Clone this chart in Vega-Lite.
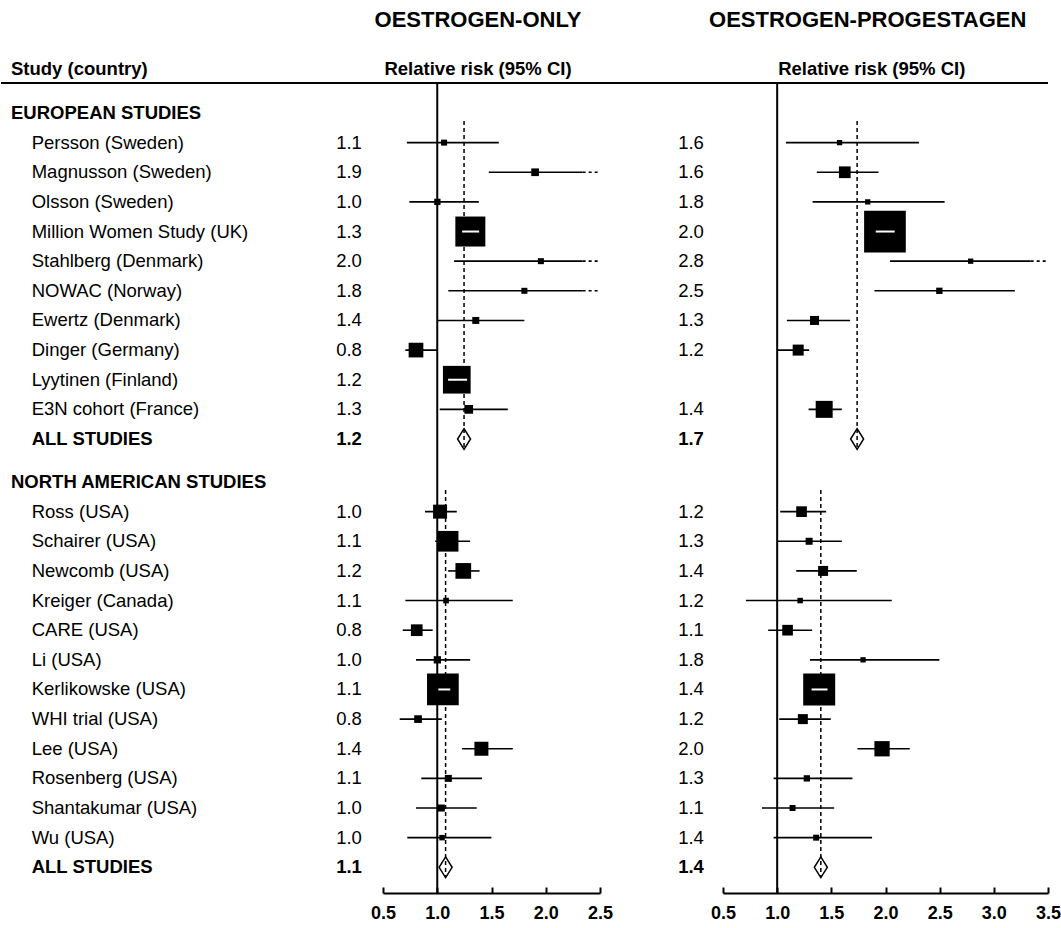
{
  "$schema": "https://vega.github.io/schema/vega-lite/v6.json",
  "width": 1047,
  "height": 893,
  "padding": 0,
  "background": "white",
  "config": {
    "view": {"stroke": null},
    "font": "Liberation Sans",
    "text": {"font": "Liberation Sans", "color": "black"}
  },
  "datasets": {
    "rows": [
      {"row": 0, "label": "EUROPEAN STUDIES", "kind": "heading", "level": 0},
      {"row": 1, "label": "Persson (Sweden)", "kind": "study", "level": 1},
      {"row": 2, "label": "Magnusson (Sweden)", "kind": "study", "level": 1},
      {"row": 3, "label": "Olsson (Sweden)", "kind": "study", "level": 1},
      {"row": 4, "label": "Million Women Study (UK)", "kind": "study", "level": 1},
      {"row": 5, "label": "Stahlberg (Denmark)", "kind": "study", "level": 1},
      {"row": 6, "label": "NOWAC (Norway)", "kind": "study", "level": 1},
      {"row": 7, "label": "Ewertz (Denmark)", "kind": "study", "level": 1},
      {"row": 8, "label": "Dinger (Germany)", "kind": "study", "level": 1},
      {"row": 9, "label": "Lyytinen (Finland)", "kind": "study", "level": 1},
      {"row": 10, "label": "E3N cohort (France)", "kind": "study", "level": 1},
      {"row": 11, "label": "ALL STUDIES", "kind": "total", "level": 1},
      {"row": 12, "label": "NORTH AMERICAN STUDIES", "kind": "heading", "level": 0},
      {"row": 13, "label": "Ross (USA)", "kind": "study", "level": 1},
      {"row": 14, "label": "Schairer (USA)", "kind": "study", "level": 1},
      {"row": 15, "label": "Newcomb (USA)", "kind": "study", "level": 1},
      {"row": 16, "label": "Kreiger (Canada)", "kind": "study", "level": 1},
      {"row": 17, "label": "CARE (USA)", "kind": "study", "level": 1},
      {"row": 18, "label": "Li (USA)", "kind": "study", "level": 1},
      {"row": 19, "label": "Kerlikowske (USA)", "kind": "study", "level": 1},
      {"row": 20, "label": "WHI trial (USA)", "kind": "study", "level": 1},
      {"row": 21, "label": "Lee (USA)", "kind": "study", "level": 1},
      {"row": 22, "label": "Rosenberg (USA)", "kind": "study", "level": 1},
      {"row": 23, "label": "Shantakumar (USA)", "kind": "study", "level": 1},
      {"row": 24, "label": "Wu (USA)", "kind": "study", "level": 1},
      {"row": 25, "label": "ALL STUDIES", "kind": "total", "level": 1}
    ],
    "est": [
      {"row": 1, "therapy": "EO", "rr": 1.063, "lo": 0.72, "hi": 1.567, "w": 3.6, "label": "1.1"},
      {"row": 2, "therapy": "EO", "rr": 1.902, "lo": 1.475, "hi": 2.5, "cut": true, "w": 5.9, "label": "1.9"},
      {"row": 3, "therapy": "EO", "rr": 1.001, "lo": 0.743, "hi": 1.383, "w": 4.0, "label": "1.0"},
      {"row": 4, "therapy": "EO", "rr": 1.305, "lo": 1.229, "hi": 1.386, "w": 90, "label": "1.3"},
      {"row": 5, "therapy": "EO", "rr": 1.955, "lo": 1.155, "hi": 2.5, "cut": true, "w": 3.6, "label": "2.0"},
      {"row": 6, "therapy": "EO", "rr": 1.803, "lo": 1.102, "hi": 2.5, "cut": true, "w": 3.6, "label": "1.8"},
      {"row": 7, "therapy": "EO", "rr": 1.355, "lo": 1.005, "hi": 1.803, "w": 4.9, "label": "1.4"},
      {"row": 8, "therapy": "EO", "rr": 0.804, "lo": 0.706, "hi": 1.005, "w": 21.6, "label": "0.8"},
      {"row": 9, "therapy": "EO", "rr": 1.18, "lo": 1.1, "hi": 1.275, "w": 76.7, "label": "1.2"},
      {"row": 10, "therapy": "EO", "rr": 1.29, "lo": 1.023, "hi": 1.65, "w": 7.6, "label": "1.3"},
      {"row": 13, "therapy": "EO", "rr": 1.026, "lo": 0.887, "hi": 1.18, "w": 19.6, "label": "1.0"},
      {"row": 14, "therapy": "EO", "rr": 1.1, "lo": 0.98, "hi": 1.303, "w": 42.8, "label": "1.1"},
      {"row": 15, "therapy": "EO", "rr": 1.24, "lo": 1.1, "hi": 1.39, "w": 24.6, "label": "1.2"},
      {"row": 16, "therapy": "EO", "rr": 1.081, "lo": 0.706, "hi": 1.696, "w": 3.2, "label": "1.1"},
      {"row": 17, "therapy": "EO", "rr": 0.811, "lo": 0.682, "hi": 0.958, "w": 13.7, "label": "0.8"},
      {"row": 18, "therapy": "EO", "rr": 1.001, "lo": 0.804, "hi": 1.303, "w": 5.3, "label": "1.0"},
      {"row": 19, "therapy": "EO", "rr": 1.052, "lo": 1.01, "hi": 1.12, "w": 100.5, "label": "1.1"},
      {"row": 20, "therapy": "EO", "rr": 0.823, "lo": 0.654, "hi": 1.042, "w": 5.9, "label": "0.8"},
      {"row": 21, "therapy": "EO", "rr": 1.407, "lo": 1.229, "hi": 1.696, "w": 19.6, "label": "1.4"},
      {"row": 22, "therapy": "EO", "rr": 1.102, "lo": 0.853, "hi": 1.413, "w": 4.9, "label": "1.1"},
      {"row": 23, "therapy": "EO", "rr": 1.038, "lo": 0.804, "hi": 1.364, "w": 4.9, "label": "1.0"},
      {"row": 24, "therapy": "EO", "rr": 1.044, "lo": 0.724, "hi": 1.499, "w": 3.0, "label": "1.0"},
      {"row": 1, "therapy": "EP", "rr": 1.576, "lo": 1.081, "hi": 2.309, "w": 2.8, "label": "1.6"},
      {"row": 2, "therapy": "EP", "rr": 1.624, "lo": 1.366, "hi": 1.935, "w": 13.7, "label": "1.6"},
      {"row": 3, "therapy": "EP", "rr": 1.836, "lo": 1.327, "hi": 2.546, "w": 2.8, "label": "1.8"},
      {"row": 4, "therapy": "EP", "rr": 1.995, "lo": 1.91, "hi": 2.085, "w": 173.9, "label": "2.0"},
      {"row": 5, "therapy": "EP", "rr": 2.786, "lo": 2.042, "hi": 3.5, "cut": true, "w": 2.8, "label": "2.8"},
      {"row": 6, "therapy": "EP", "rr": 2.497, "lo": 1.898, "hi": 3.194, "w": 4.0, "label": "2.5"},
      {"row": 7, "therapy": "EP", "rr": 1.345, "lo": 1.09, "hi": 1.673, "w": 8.1, "label": "1.3"},
      {"row": 8, "therapy": "EP", "rr": 1.194, "lo": 1.0, "hi": 1.295, "w": 12.1, "label": "1.2"},
      {"row": 10, "therapy": "EP", "rr": 1.434, "lo": 1.29, "hi": 1.597, "w": 28.9, "label": "1.4"},
      {"row": 13, "therapy": "EP", "rr": 1.225, "lo": 1.028, "hi": 1.452, "w": 11.4, "label": "1.2"},
      {"row": 14, "therapy": "EP", "rr": 1.295, "lo": 0.998, "hi": 1.597, "w": 4.9, "label": "1.3"},
      {"row": 15, "therapy": "EP", "rr": 1.424, "lo": 1.176, "hi": 1.735, "w": 10, "label": "1.4"},
      {"row": 16, "therapy": "EP", "rr": 1.212, "lo": 0.712, "hi": 2.058, "w": 3.0, "label": "1.2"},
      {"row": 17, "therapy": "EP", "rr": 1.096, "lo": 0.917, "hi": 1.323, "w": 11.4, "label": "1.1"},
      {"row": 18, "therapy": "EP", "rr": 1.793, "lo": 1.302, "hi": 2.497, "w": 2.8, "label": "1.8"},
      {"row": 19, "therapy": "EP", "rr": 1.388, "lo": 1.318, "hi": 1.465, "w": 102.4, "label": "1.4"},
      {"row": 20, "therapy": "EP", "rr": 1.237, "lo": 1.019, "hi": 1.495, "w": 10, "label": "1.2"},
      {"row": 21, "therapy": "EP", "rr": 1.968, "lo": 1.741, "hi": 2.224, "w": 23.4, "label": "2.0"},
      {"row": 22, "therapy": "EP", "rr": 1.274, "lo": 0.967, "hi": 1.695, "w": 4.0, "label": "1.3"},
      {"row": 23, "therapy": "EP", "rr": 1.142, "lo": 0.859, "hi": 1.526, "w": 3.6, "label": "1.1"},
      {"row": 24, "therapy": "EP", "rr": 1.36, "lo": 0.967, "hi": 1.876, "w": 3.6, "label": "1.4"}
    ],
    "pooled": [
      {"row": 11, "from": 0, "therapy": "EO", "rr": 1.247, "lo": 1.19, "hi": 1.31, "label": "1.2"},
      {"row": 11, "from": 0, "therapy": "EP", "rr": 1.738, "lo": 1.673, "hi": 1.802, "label": "1.7"},
      {"row": 25, "from": 12, "therapy": "EO", "rr": 1.077, "lo": 1.026, "hi": 1.127, "label": "1.1"},
      {"row": 25, "from": 12, "therapy": "EP", "rr": 1.403, "lo": 1.341, "hi": 1.467, "label": "1.4"}
    ]
  },
  "layer": [
    {
      "layer": [
        {
          "data": {"values": [{}]},
          "mark": {"type": "rule", "strokeWidth": 2, "color": "black"},
          "encoding": {
            "y": {"datum": -1.012, "type": "quantitative", "scale": {"domain": [-3.812, 11, 12, 25.867], "range": [0, 439, 482, 893], "nice": false, "zero": false}, "axis": null}
          }
        },
        {
          "data": {"values": [{}]},
          "mark": {"type": "text", "text": "Study (country)", "fontSize": 18.5, "fontWeight": "bold", "align": "left", "baseline": "middle"},
          "encoding": {
            "x": {"datum": 0, "type": "quantitative", "scale": {"domain": [0, 1], "range": [10, 30.7], "nice": false, "zero": false}, "axis": null},
            "y": {"datum": -1.49, "type": "quantitative", "axis": null}
          }
        },
        {
          "data": {"name": "rows"},
          "transform": [{"filter": "datum.kind == 'study'"}],
          "mark": {"type": "text", "fontSize": 18.5, "align": "left", "baseline": "middle"},
          "encoding": {
            "x": {"field": "level", "type": "quantitative", "axis": null},
            "y": {"field": "row", "type": "quantitative", "axis": null},
            "text": {"field": "label"}
          }
        },
        {
          "data": {"name": "rows"},
          "transform": [{"filter": "datum.kind != 'study'"}],
          "mark": {"type": "text", "fontSize": 18.5, "fontWeight": "bold", "align": "left", "baseline": "middle"},
          "encoding": {
            "x": {"field": "level", "type": "quantitative", "axis": null},
            "y": {"field": "row", "type": "quantitative", "axis": null},
            "text": {"field": "label"}
          }
        }
      ]
    },
    {
      "layer": [
        {
          "data": {"values": [{}]},
          "mark": {"type": "rule", "strokeWidth": 2, "color": "black"},
          "encoding": {
            "x": {"datum": 1, "type": "quantitative",
              "scale": {"domain": [0.5, 2.5], "range": [382, 599], "nice": false, "zero": false},
              "axis": {"orient": "bottom", "values": [0.5, 1, 1.5, 2, 2.5], "format": ".1f", "title": null, "grid": false,
                "domainColor": "black", "domainWidth": 2, "tickColor": "black", "tickWidth": 2, "tickSize": -6, "labelPadding": 17,
                "labelFontSize": 18, "labelFontWeight": "bold", "labelColor": "black", "labelFlush": false, "labelOverlap": false}},
            "y": {"datum": -1.012, "type": "quantitative", "axis": null},
            "y2": {"datum": 25.867}
          }
        },
        {
          "data": {"name": "pooled"},
          "transform": [{"filter": "datum.therapy == 'EO'"}],
          "mark": {"type": "rule", "strokeDash": [4, 3], "strokeWidth": 1.5, "color": "black", "yOffset": 8, "y2Offset": 10},
          "encoding": {
            "x": {"field": "rr", "type": "quantitative"},
            "y": {"field": "from", "type": "quantitative", "axis": null},
            "y2": {"field": "row"}
          }
        },
        {
          "data": {"name": "est"},
          "transform": [{"filter": "datum.therapy == 'EO'"}, {"calculate": "datum.cut ? datum.hi - 0.16 : datum.hi", "as": "solid_end"}],
          "mark": {"type": "rule", "strokeWidth": 1.6, "color": "black"},
          "encoding": {
            "x": {"field": "lo", "type": "quantitative"},
            "x2": {"field": "solid_end"},
            "y": {"field": "row", "type": "quantitative", "axis": null}
          }
        },
        {
          "data": {"name": "est"},
          "transform": [{"filter": "datum.therapy == 'EO' && datum.cut"}, {"calculate": "datum.hi - 0.16", "as": "solid_end"}],
          "mark": {"type": "rule", "strokeWidth": 1.6, "strokeDash": [3, 3], "color": "black"},
          "encoding": {
            "x": {"field": "solid_end", "type": "quantitative"},
            "x2": {"field": "hi"},
            "y": {"field": "row", "type": "quantitative", "axis": null}
          }
        },
        {
          "data": {"name": "est"},
          "transform": [{"filter": "datum.therapy == 'EO'"}],
          "mark": {"type": "square", "filled": true, "color": "black", "opacity": 1},
          "encoding": {
            "x": {"field": "rr", "type": "quantitative"},
            "y": {"field": "row", "type": "quantitative", "axis": null},
            "size": {"field": "w", "type": "quantitative", "scale": {"domain": [0, 100], "range": [0, 1000]}, "legend": null}
          }
        },
        {
          "data": {"name": "est"},
          "transform": [{"filter": "datum.therapy == 'EO' && datum.hi - datum.lo < 0.25"}],
          "mark": {"type": "rule", "strokeWidth": 2, "color": "white"},
          "encoding": {
            "x": {"field": "lo", "type": "quantitative"},
            "x2": {"field": "hi"},
            "y": {"field": "row", "type": "quantitative", "axis": null}
          }
        },
        {
          "data": {"name": "pooled"},
          "transform": [{"filter": "datum.therapy == 'EO'"}],
          "mark": {"type": "point", "shape": "M0,-1.6L1,0L0,1.6L-1,0Z", "size": 169, "filled": false, "color": "black", "strokeWidth": 1.5, "opacity": 1},
          "encoding": {
            "x": {"field": "rr", "type": "quantitative"},
            "y": {"field": "row", "type": "quantitative", "axis": null}
          }
        },
        {
          "data": {"name": "est"},
          "transform": [{"filter": "datum.therapy == 'EO'"}],
          "mark": {"type": "text", "fontSize": 18.5, "align": "center", "baseline": "middle", "dx": -34},
          "encoding": {
            "x": {"datum": 0.5, "type": "quantitative"},
            "y": {"field": "row", "type": "quantitative", "axis": null},
            "text": {"field": "label"}
          }
        },
        {
          "data": {"name": "pooled"},
          "transform": [{"filter": "datum.therapy == 'EO'"}],
          "mark": {"type": "text", "fontSize": 18.5, "fontWeight": "bold", "align": "center", "baseline": "middle", "dx": -34},
          "encoding": {
            "x": {"datum": 0.5, "type": "quantitative"},
            "y": {"field": "row", "type": "quantitative", "axis": null},
            "text": {"field": "label"}
          }
        },
        {
          "data": {"values": [{}]},
          "mark": {"type": "text", "text": "OESTROGEN-ONLY", "fontSize": 22, "fontWeight": "bold", "align": "center", "baseline": "middle"},
          "encoding": {
            "x": {"datum": 1.376, "type": "quantitative"},
            "y": {"datum": -3.15, "type": "quantitative", "axis": null}
          }
        },
        {
          "data": {"values": [{}]},
          "mark": {"type": "text", "text": "Relative risk (95% CI)", "fontSize": 18.5, "fontWeight": "bold", "align": "center", "baseline": "middle"},
          "encoding": {
            "x": {"datum": 1.376, "type": "quantitative"},
            "y": {"datum": -1.49, "type": "quantitative", "axis": null}
          }
        }
      ]
    },
    {
      "layer": [
        {
          "data": {"values": [{}]},
          "mark": {"type": "rule", "strokeWidth": 2, "color": "black"},
          "encoding": {
            "x": {"datum": 1, "type": "quantitative",
              "scale": {"domain": [0.5, 3.5], "range": [722, 1047], "nice": false, "zero": false},
              "axis": {"orient": "bottom", "values": [0.5, 1, 1.5, 2, 2.5, 3, 3.5], "format": ".1f", "title": null, "grid": false,
                "domainColor": "black", "domainWidth": 2, "tickColor": "black", "tickWidth": 2, "tickSize": -6, "labelPadding": 17,
                "labelFontSize": 18, "labelFontWeight": "bold", "labelColor": "black", "labelFlush": false, "labelOverlap": false}},
            "y": {"datum": -1.012, "type": "quantitative", "axis": null},
            "y2": {"datum": 25.867}
          }
        },
        {
          "data": {"name": "pooled"},
          "transform": [{"filter": "datum.therapy == 'EP'"}],
          "mark": {"type": "rule", "strokeDash": [4, 3], "strokeWidth": 1.5, "color": "black", "yOffset": 8, "y2Offset": 10},
          "encoding": {
            "x": {"field": "rr", "type": "quantitative"},
            "y": {"field": "from", "type": "quantitative", "axis": null},
            "y2": {"field": "row"}
          }
        },
        {
          "data": {"name": "est"},
          "transform": [{"filter": "datum.therapy == 'EP'"}, {"calculate": "datum.cut ? datum.hi - 0.16 : datum.hi", "as": "solid_end"}],
          "mark": {"type": "rule", "strokeWidth": 1.6, "color": "black"},
          "encoding": {
            "x": {"field": "lo", "type": "quantitative"},
            "x2": {"field": "solid_end"},
            "y": {"field": "row", "type": "quantitative", "axis": null}
          }
        },
        {
          "data": {"name": "est"},
          "transform": [{"filter": "datum.therapy == 'EP' && datum.cut"}, {"calculate": "datum.hi - 0.16", "as": "solid_end"}],
          "mark": {"type": "rule", "strokeWidth": 1.6, "strokeDash": [3, 3], "color": "black"},
          "encoding": {
            "x": {"field": "solid_end", "type": "quantitative"},
            "x2": {"field": "hi"},
            "y": {"field": "row", "type": "quantitative", "axis": null}
          }
        },
        {
          "data": {"name": "est"},
          "transform": [{"filter": "datum.therapy == 'EP'"}],
          "mark": {"type": "square", "filled": true, "color": "black", "opacity": 1},
          "encoding": {
            "x": {"field": "rr", "type": "quantitative"},
            "y": {"field": "row", "type": "quantitative", "axis": null},
            "size": {"field": "w", "type": "quantitative", "scale": {"domain": [0, 100], "range": [0, 1000]}, "legend": null}
          }
        },
        {
          "data": {"name": "est"},
          "transform": [{"filter": "datum.therapy == 'EP' && datum.hi - datum.lo < 0.25"}],
          "mark": {"type": "rule", "strokeWidth": 2, "color": "white"},
          "encoding": {
            "x": {"field": "lo", "type": "quantitative"},
            "x2": {"field": "hi"},
            "y": {"field": "row", "type": "quantitative", "axis": null}
          }
        },
        {
          "data": {"name": "pooled"},
          "transform": [{"filter": "datum.therapy == 'EP'"}],
          "mark": {"type": "point", "shape": "M0,-1.6L1,0L0,1.6L-1,0Z", "size": 169, "filled": false, "color": "black", "strokeWidth": 1.5, "opacity": 1},
          "encoding": {
            "x": {"field": "rr", "type": "quantitative"},
            "y": {"field": "row", "type": "quantitative", "axis": null}
          }
        },
        {
          "data": {"name": "est"},
          "transform": [{"filter": "datum.therapy == 'EP'"}],
          "mark": {"type": "text", "fontSize": 18.5, "align": "center", "baseline": "middle", "dx": -32},
          "encoding": {
            "x": {"datum": 0.5, "type": "quantitative"},
            "y": {"field": "row", "type": "quantitative", "axis": null},
            "text": {"field": "label"}
          }
        },
        {
          "data": {"name": "pooled"},
          "transform": [{"filter": "datum.therapy == 'EP'"}],
          "mark": {"type": "text", "fontSize": 18.5, "fontWeight": "bold", "align": "center", "baseline": "middle", "dx": -32},
          "encoding": {
            "x": {"datum": 0.5, "type": "quantitative"},
            "y": {"field": "row", "type": "quantitative", "axis": null},
            "text": {"field": "label"}
          }
        },
        {
          "data": {"values": [{}]},
          "mark": {"type": "text", "text": "OESTROGEN-PROGESTAGEN", "fontSize": 22, "fontWeight": "bold", "align": "center", "baseline": "middle"},
          "encoding": {
            "x": {"datum": 1.836, "type": "quantitative"},
            "y": {"datum": -3.15, "type": "quantitative", "axis": null}
          }
        },
        {
          "data": {"values": [{}]},
          "mark": {"type": "text", "text": "Relative risk (95% CI)", "fontSize": 18.5, "fontWeight": "bold", "align": "center", "baseline": "middle"},
          "encoding": {
            "x": {"datum": 1.873, "type": "quantitative"},
            "y": {"datum": -1.49, "type": "quantitative", "axis": null}
          }
        }
      ]
    }
  ],
  "resolve": {"scale": {"x": "independent"}, "axis": {"x": "independent"}}
}
